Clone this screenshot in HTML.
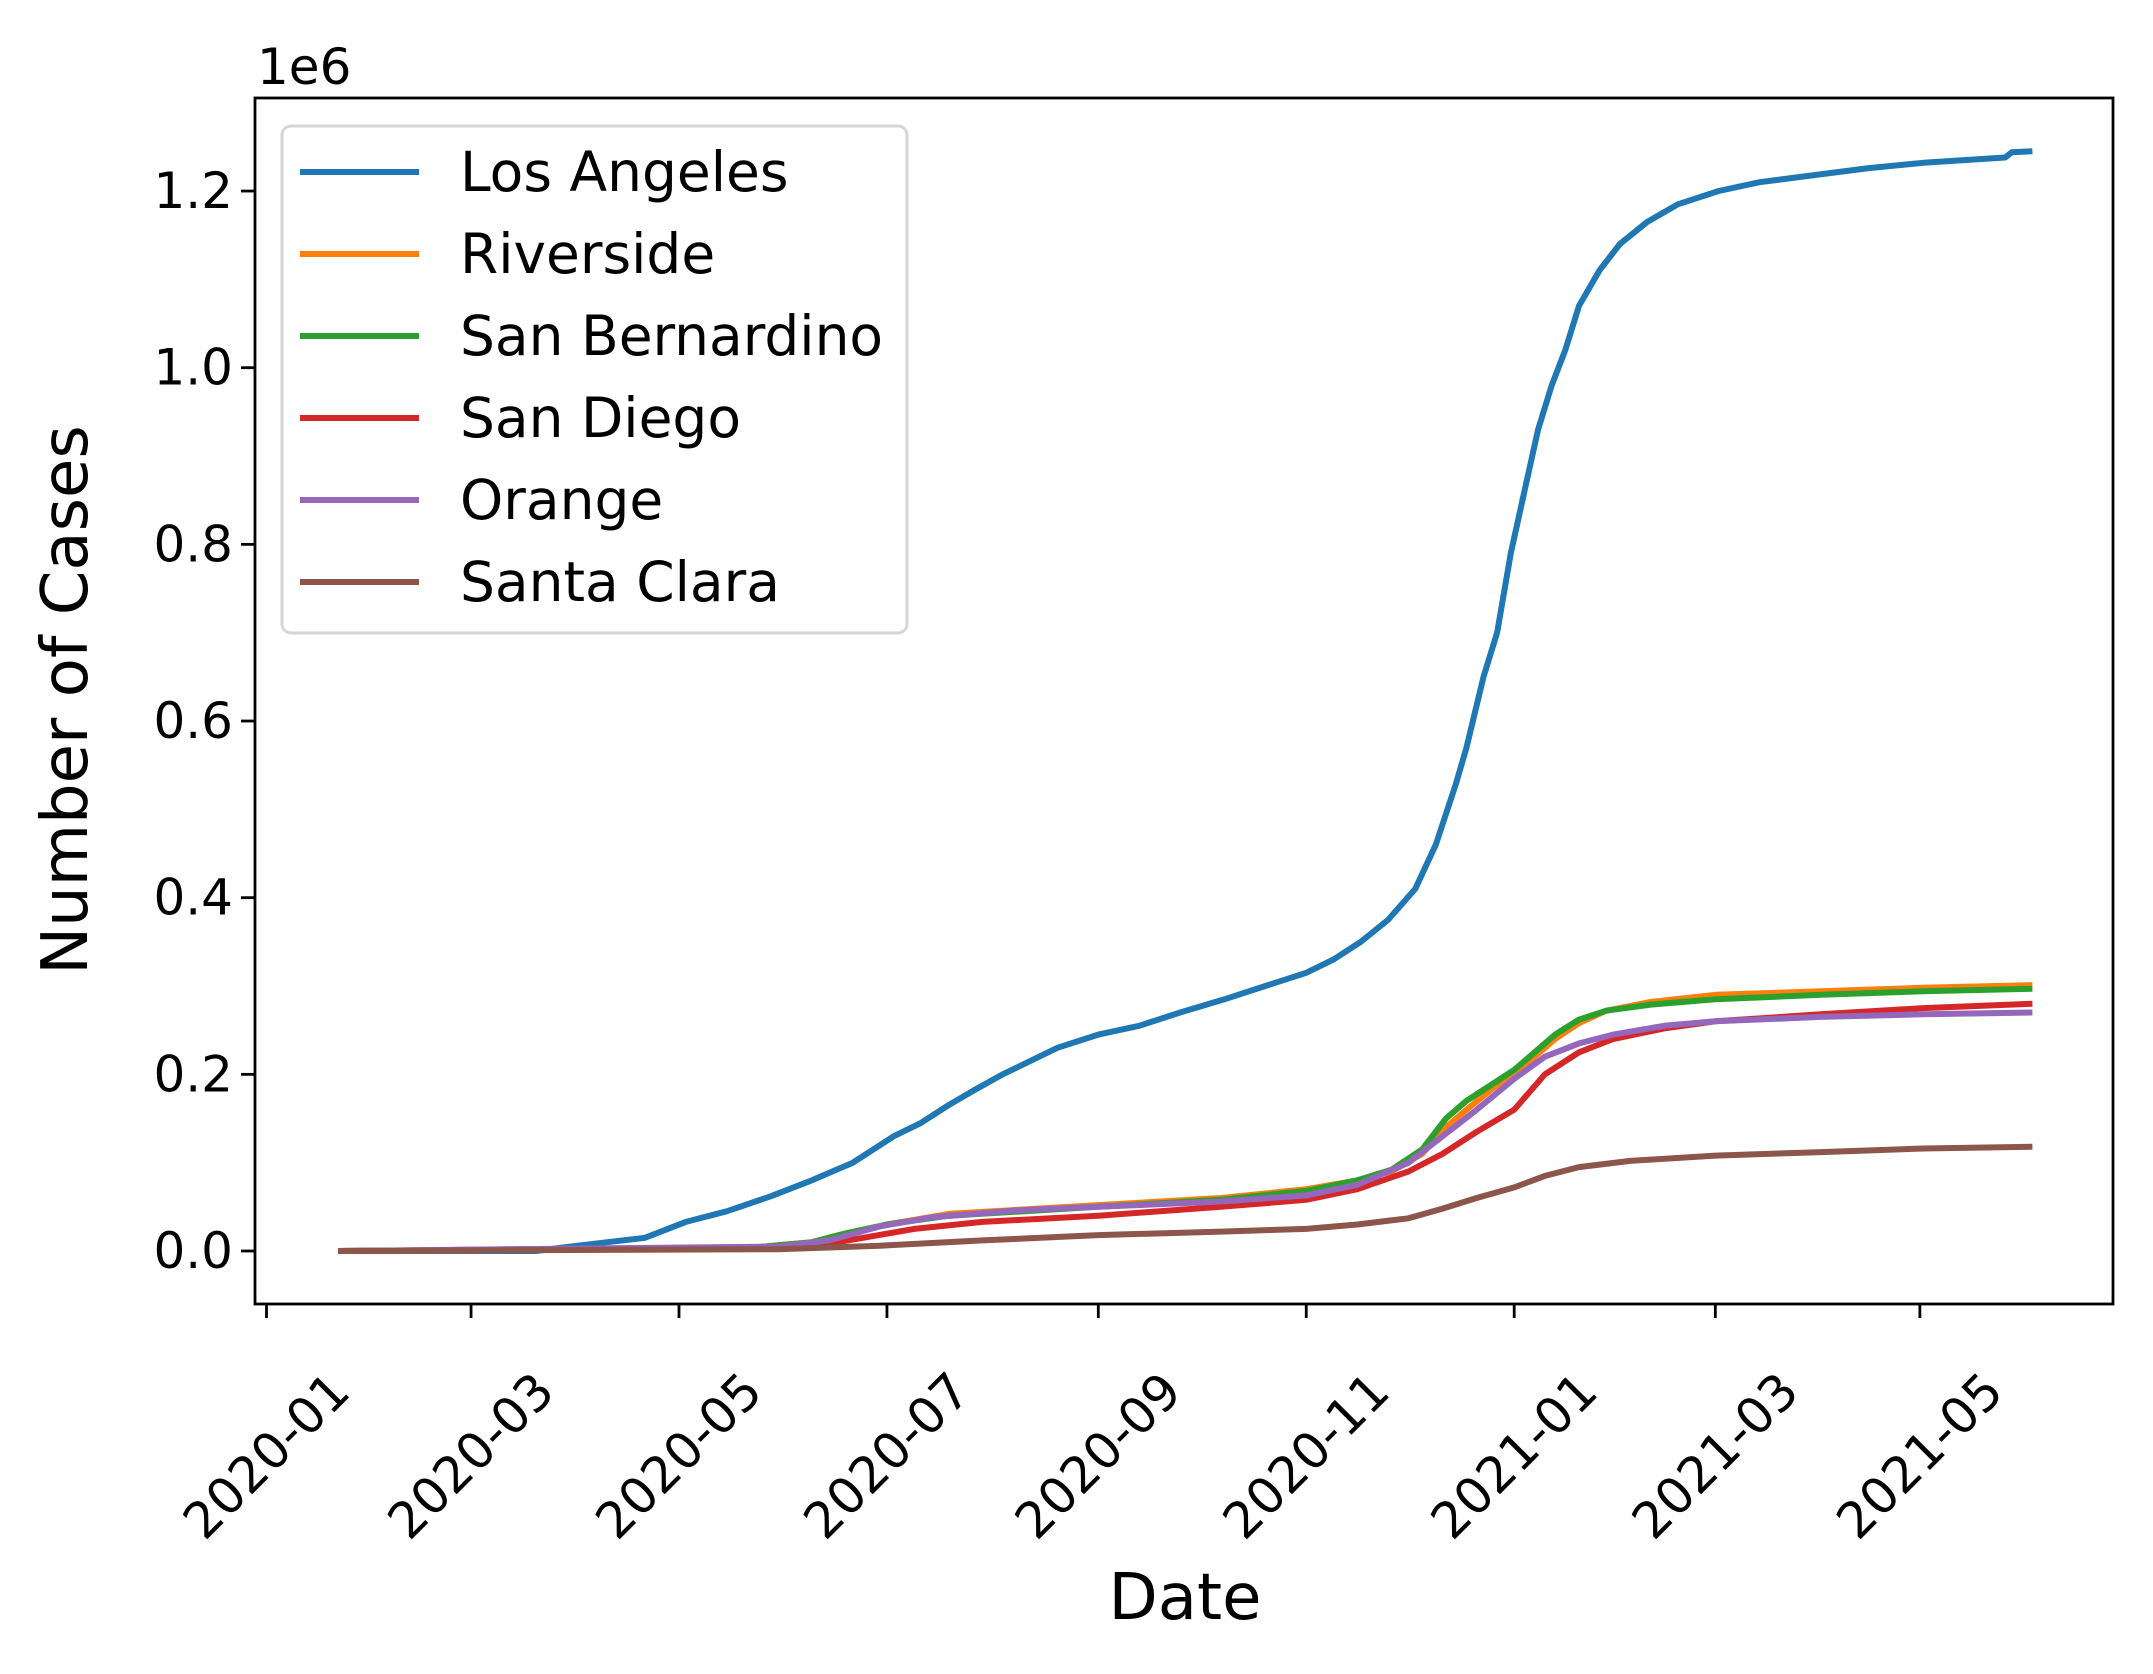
<!DOCTYPE html>
<html><head><meta charset="utf-8"><style>
html,body{margin:0;padding:0;background:#fff;}
svg{display:block;font-family:"DejaVu Sans","Liberation Sans",sans-serif;}
</style></head><body>
<svg id="chart" width="2153" height="1674" viewBox="0 0 2153 1674" xmlns="http://www.w3.org/2000/svg">
<rect width="2153" height="1674" fill="#fff"/>
<g id="plot"></g>
<g id="axes"></g>
<g id="legend"></g>
</svg>
<script>
const seriesNames = ["Los Angeles","Riverside","San Bernardino","San Diego","Orange","Santa Clara"];
const seriesColors = ["#1f77b4","#ff7f0e","#2ca02c","#d62728","#9467bd","#8c564b"];
// days since 2020-01-01, values in millions
const laDays = [21,79,87,100,111,123,135,148,160,172,184,192,200,208,216,224,232,244,256,268,281,293,305,313,321,329,337,343,349,352,357,361,365,369,373,377,381,385,391,397,405,414,426,438,454,470,486,510,512,518];
const laVals = [0,0,0.004,0.01,0.015,0.033,0.045,0.062,0.08,0.1,0.13,0.145,0.165,0.183,0.2,0.215,0.23,0.245,0.255,0.27,0.285,0.3,0.315,0.33,0.35,0.375,0.41,0.46,0.53,0.57,0.65,0.7,0.79,0.86,0.93,0.98,1.02,1.07,1.11,1.14,1.165,1.185,1.2,1.21,1.218,1.226,1.232,1.238,1.244,1.245];
const rvDays = [21,140,160,170,182,200,244,280,305,320,330,339,346,352,360,366,372,378,385,393,406,425,456,486,518];
const rvVals = [0,0.003,0.01,0.02,0.03,0.042,0.052,0.06,0.07,0.08,0.09,0.11,0.14,0.16,0.185,0.2,0.22,0.24,0.258,0.272,0.282,0.29,0.294,0.298,0.301];
const sbDays = [21,140,160,170,182,200,244,280,305,320,330,339,346,352,360,366,372,378,385,393,406,425,456,486,518];
const sbVals = [0,0.003,0.01,0.02,0.03,0.04,0.05,0.058,0.068,0.08,0.092,0.115,0.15,0.17,0.19,0.205,0.225,0.245,0.262,0.272,0.279,0.285,0.29,0.294,0.297];
const sdDays = [21,160,175,190,210,244,280,305,320,335,345,355,366,375,385,395,410,425,456,486,518];
const sdVals = [0,0.005,0.015,0.025,0.033,0.04,0.05,0.058,0.07,0.09,0.11,0.135,0.16,0.2,0.225,0.24,0.252,0.26,0.268,0.275,0.28];
const orDays = [21,150,165,180,195,220,244,280,305,320,335,345,355,366,375,385,395,410,425,456,486,518];
const orVals = [0,0.005,0.012,0.028,0.038,0.046,0.05,0.056,0.063,0.075,0.1,0.13,0.16,0.195,0.22,0.235,0.245,0.255,0.26,0.265,0.268,0.27];
const scDays = [21,150,180,210,244,280,305,320,335,345,355,366,375,385,400,425,456,486,518];
const scVals = [0,0.002,0.006,0.012,0.018,0.022,0.025,0.03,0.037,0.048,0.06,0.072,0.085,0.095,0.102,0.108,0.112,0.116,0.118];
const xTickDays = [0,60,121,182,244,305,366,425,485];
const xTickLabels = ["2020-01","2020-03","2020-05","2020-07","2020-09","2020-11","2021-01","2021-03","2021-05"];
const yTickVals = [0,0.2,0.4,0.6,0.8,1.0,1.2];
const yTickLabels = ["0.0","0.2","0.4","0.6","0.8","1.0","1.2"];

const L=255,R=2113,T=98,B=1304;
function xs(d){return 266.5+d*3.409;}
function ys(v){return 1251-v*883.3;}
const NS="http://www.w3.org/2000/svg";
function mk(tag,attrs,parent){const e=document.createElementNS(NS,tag);for(const k in attrs)e.setAttribute(k,attrs[k]);parent.appendChild(e);return e;}
const plot=document.getElementById('plot'),axes=document.getElementById('axes'),legend=document.getElementById('legend');
const allDays=[laDays,rvDays,sbDays,sdDays,orDays,scDays];
const allVals=[laVals,rvVals,sbVals,sdVals,orVals,scVals];
const slugs=["los-angeles","riverside","san-bernardino","san-diego","orange","santa-clara"];
for(let s=0;s<6;s++){
  const pts=allDays[s].map((d,i)=>xs(d).toFixed(1)+","+ys(allVals[s][i]).toFixed(1)).join(" ");
  const pl=mk('polyline',{points:pts,fill:'none',stroke:seriesColors[s],'stroke-width':6,'stroke-linejoin':'round'},plot);
  
  
}
const frame=mk('rect',{x:L,y:T,width:R-L,height:B-T,fill:'none',stroke:'#000','stroke-width':2.8},axes);


for(let i=0;i<xTickDays.length;i++){
  const x=xs(xTickDays[i]);
  const tk=mk('line',{x1:x,x2:x,y1:B,y2:B+14,stroke:'#000','stroke-width':2.8},axes);
  
  
  const t=mk('text',{x:x,y:1456,'font-size':50,'text-anchor':'middle','dominant-baseline':'central',transform:'rotate(-45 '+x+' 1456)'},axes);
  t.textContent=xTickLabels[i];
  
  
}
for(let i=0;i<yTickVals.length;i++){
  const y=ys(yTickVals[i]);
  const tk=mk('line',{x1:L-14,x2:L,y1:y,y2:y,stroke:'#000','stroke-width':2.8},axes);
  
  
  const t=mk('text',{x:L-22,y:y,'font-size':50,'text-anchor':'end','dominant-baseline':'central'},axes);
  t.textContent=yTickLabels[i];
  
  
}
const off=mk('text',{x:257,y:84,'font-size':50},axes);off.textContent="1e6";


const yl=mk('text',{x:0,y:0,'font-size':64,'text-anchor':'middle','dominant-baseline':'central',transform:'translate(66 700) rotate(-90)'},axes);yl.textContent="Number of Cases";


const xl=mk('text',{x:1185,y:1598,'font-size':64,'text-anchor':'middle','dominant-baseline':'central'},axes);xl.textContent="Date";


const lb=mk('rect',{x:282,y:126,width:625,height:507,rx:9,fill:'#fff','fill-opacity':0.8,stroke:'#d6d6d6','stroke-width':3},legend);


const legY=[172,254,336,418,500,582];
for(let s=0;s<6;s++){
  const g=mk('g',{},legend);
  
  
  mk('line',{x1:300,x2:419,y1:legY[s],y2:legY[s],stroke:seriesColors[s],'stroke-width':6},g);
  const t=mk('text',{x:460,y:legY[s],'font-size':55,'dominant-baseline':'central'},g);
  t.textContent=seriesNames[s];
}
</script>
</body></html>
